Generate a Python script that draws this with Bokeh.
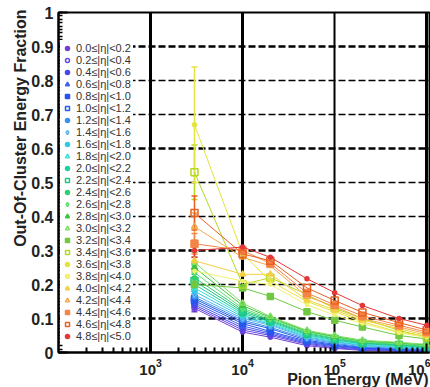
from bokeh.plotting import figure
from bokeh.models import (FixedTicker, NumeralTickFormatter, Legend, LegendItem, Title,
                          Grid, Whisker, ColumnDataSource, TeeHead, LogTickFormatter)
from bokeh.embed import file_html
from bokeh.resources import INLINE

# ---------------- data ----------------
energies = [3000, 10000, 20000, 50000, 100000, 200000, 500000, 1000000]

eta_labels = [
    "0.0≤|η|<0.2", "0.2≤|η|<0.4", "0.4≤|η|<0.6", "0.6≤|η|<0.8", "0.8≤|η|<1.0",
    "1.0≤|η|<1.2", "1.2≤|η|<1.4", "1.4≤|η|<1.6", "1.6≤|η|<1.8", "1.8≤|η|<2.0",
    "2.0≤|η|<2.2", "2.2≤|η|<2.4", "2.4≤|η|<2.6", "2.6≤|η|<2.8", "2.8≤|η|<3.0",
    "3.0≤|η|<3.2", "3.2≤|η|<3.4", "3.4≤|η|<3.6", "3.6≤|η|<3.8", "3.8≤|η|<4.0",
    "4.0≤|η|<4.2", "4.2≤|η|<4.4", "4.4≤|η|<4.6", "4.6≤|η|<4.8", "4.8≤|η|<5.0",
]

frac_eta00 = [0.130, 0.060, 0.045, 0.020, 0.012, 0.006, 0.004, 0.003]
frac_eta02 = [0.135, 0.066, 0.050, 0.024, 0.014, 0.008, 0.005, 0.004]
frac_eta04 = [0.140, 0.072, 0.054, 0.027, 0.017, 0.010, 0.007, 0.005]
frac_eta06 = [0.146, 0.078, 0.058, 0.030, 0.019, 0.012, 0.008, 0.006]
frac_eta08 = [0.152, 0.085, 0.062, 0.033, 0.021, 0.013, 0.009, 0.007]
frac_eta10 = [0.158, 0.090, 0.070, 0.036, 0.024, 0.015, 0.011, 0.008]
frac_eta12 = [0.163, 0.095, 0.074, 0.040, 0.027, 0.017, 0.012, 0.009]
frac_eta14 = [0.170, 0.100, 0.080, 0.043, 0.030, 0.020, 0.014, 0.011]
frac_eta16 = [0.180, 0.105, 0.083, 0.046, 0.032, 0.022, 0.016, 0.012]
frac_eta18 = [0.190, 0.110, 0.086, 0.049, 0.035, 0.024, 0.018, 0.013]
frac_eta20 = [0.200, 0.115, 0.090, 0.052, 0.037, 0.026, 0.020, 0.015]
frac_eta22 = [0.210, 0.120, 0.093, 0.055, 0.040, 0.028, 0.022, 0.016]
frac_eta24 = [0.220, 0.125, 0.096, 0.058, 0.042, 0.030, 0.024, 0.018]
frac_eta26 = [0.235, 0.130, 0.100, 0.061, 0.045, 0.032, 0.026, 0.020]
frac_eta28 = [0.250, 0.138, 0.103, 0.063, 0.047, 0.034, 0.028, 0.022]
frac_eta30 = [0.265, 0.145, 0.106, 0.065, 0.050, 0.036, 0.030, 0.024]
frac_eta32 = [0.200, 0.190, 0.165, 0.120, 0.095, 0.075, 0.050, 0.040]
frac_eta34 = [0.530, 0.200, 0.220, 0.170, 0.130, 0.100, 0.065, 0.045]
frac_eta36 = [0.670, 0.290, 0.210, 0.150, 0.120, 0.090, 0.060, 0.048]
frac_eta38 = [0.240, 0.210, 0.200, 0.140, 0.110, 0.085, 0.058, 0.044]
frac_eta40 = [0.270, 0.230, 0.230, 0.155, 0.125, 0.095, 0.070, 0.050]
frac_eta42 = [0.370, 0.280, 0.255, 0.165, 0.135, 0.100, 0.075, 0.055]
frac_eta44 = [0.320, 0.300, 0.262, 0.175, 0.140, 0.108, 0.080, 0.060]
frac_eta46 = [0.410, 0.290, 0.270, 0.190, 0.153, 0.118, 0.088, 0.066]
frac_eta48 = [0.300, 0.310, 0.280, 0.217, 0.176, 0.138, 0.100, 0.080]

fractions = [frac_eta00, frac_eta02, frac_eta04, frac_eta06, frac_eta08, frac_eta10,
             frac_eta12, frac_eta14, frac_eta16, frac_eta18, frac_eta20, frac_eta22,
             frac_eta24, frac_eta26, frac_eta28, frac_eta30, frac_eta32, frac_eta34,
             frac_eta36, frac_eta38, frac_eta40, frac_eta42, frac_eta44, frac_eta46,
             frac_eta48]

# statistical error at the 3 GeV point (only visible error bars)
err_3gev = [0.01, 0.01, 0.01, 0.01, 0.01, 0.01, 0.01, 0.01, 0.02, 0.02, 0.02, 0.02,
            0.02, 0.02, 0.03, 0.03, 0.02, 0.08, 0.17, 0.02, 0.03, 0.04, 0.03, 0.05, 0.02]

y_ticks = [0.0, 0.1, 0.2, 0.3, 0.4, 0.5, 0.6, 0.7, 0.8, 0.9, 1.0]
x_ticks = [1e3, 1e4, 1e5, 1e6]

# ---------------- styles ----------------
colors = ["#7040d0", "#6048e0", "#4a44e8", "#4060f0", "#2c50f0", "#2060e8", "#3a90f0",
          "#60b4f0", "#30c8e4", "#40e0d4", "#20d0a0", "#20c484", "#30d070", "#60e070",
          "#40c440", "#80e060", "#70c840", "#b4d820", "#e4e440", "#f4f070", "#f4d040",
          "#f4a848", "#f48448", "#e86020", "#e43838"]
markers = [("circle", True, 4), ("circle", False, 5), ("circle", True, 4), ("triangle", True, 6),
           ("square", True, 6), ("square", False, 6), ("circle", True, 4), ("diamond", False, 6),
           ("circle", True, 4), ("triangle", False, 6), ("circle", True, 6), ("square", False, 7),
           ("circle", True, 4), ("diamond", False, 6), ("triangle", True, 6), ("triangle", False, 6),
           ("square", True, 6), ("square", False, 7), ("circle", True, 4), ("circle", True, 3),
           ("triangle", True, 6), ("triangle", False, 6), ("square", True, 7), ("square", False, 7),
           ("circle", True, 4)]

FONT = "Liberation Sans"

p = figure(width=430, height=387, x_axis_type="log", x_range=(100, 10 ** 6.03),
           y_range=(0, 1), output_backend="svg", toolbar_location=None,
           min_border_left=58, min_border_right=1, min_border_top=12, min_border_bottom=35)
p.background_fill_color = "white"
p.border_fill_color = "white"
p.outline_line_color = "black"
p.outline_line_width = 2

p.xgrid.visible = False
p.ygrid.visible = False

# grid lines
p.add_layout(Grid(dimension=0, ticker=FixedTicker(ticks=[1e3, 1e4, 1e6]),
                  grid_line_color="black", grid_line_width=3))
p.add_layout(Grid(dimension=0, ticker=FixedTicker(ticks=[1e5]),
                  grid_line_color="black", grid_line_width=2))
p.add_layout(Grid(dimension=1, ticker=FixedTicker(ticks=[0.1, 0.3, 0.6, 0.9]),
                  grid_line_color="black", grid_line_width=2.5, grid_line_dash="7 3"))
p.add_layout(Grid(dimension=1, ticker=FixedTicker(ticks=[0.2, 0.4, 0.5, 0.7, 0.8]),
                  grid_line_color="black", grid_line_width=1.5, grid_line_dash="7 3"))

# axes
xa = p.xaxis[0]
xa.ticker = FixedTicker(ticks=x_ticks,
                        minor_ticks=[m * 10 ** d for d in range(2, 6) for m in range(2, 10)])
xa.formatter = LogTickFormatter()
xa.major_tick_in = 9
xa.major_tick_out = 0
xa.minor_tick_in = 5
xa.minor_tick_out = 0
xa.major_tick_line_width = 2
xa.minor_tick_line_width = 2
xa.axis_line_width = 2
xa.major_label_text_font = FONT
xa.major_label_text_font_style = "bold"
xa.major_label_text_font_size = "15px"
xa.major_label_text_color = "#222222"
xa.major_label_standoff = 6

ya = p.yaxis[0]
ya.ticker = FixedTicker(ticks=y_ticks,
                        minor_ticks=[i / 100 for i in range(0, 101)])
ya.formatter = NumeralTickFormatter(format="0.[0]")
ya.major_tick_in = 9
ya.major_tick_out = 0
ya.minor_tick_in = 4
ya.minor_tick_out = 0
ya.major_tick_line_width = 2
ya.minor_tick_line_width = 1.5
ya.axis_line_width = 2
ya.major_label_text_font = FONT
ya.major_label_text_font_style = "bold"
ya.major_label_text_font_size = "16px"
ya.major_label_text_color = "#222222"
ya.major_label_standoff = 5

# data
items = []
for i in range(len(fractions)):
    src = ColumnDataSource(dict(x=energies, y=fractions[i]))
    col = colors[i]
    mk, filled, sz = markers[i]
    p.line("x", "y", source=src, line_color=col, line_width=1)
    err_src = ColumnDataSource(dict(x=[energies[0]],
                                    lo=[fractions[i][0] - err_3gev[i]],
                                    hi=[fractions[i][0] + err_3gev[i]]))
    p.add_layout(Whisker(source=err_src, base="x", lower="lo", upper="hi",
                         line_color=col, line_width=1.5,
                         upper_head=TeeHead(size=6, line_color=col, line_width=1.5),
                         lower_head=TeeHead(size=6, line_color=col, line_width=1.5)))
    sc = p.scatter("x", "y", source=src, marker=mk, size=sz, line_color=col,
                   line_width=1.5, fill_color=col if filled else None)
    items.append(LegendItem(label=eta_labels[i], renderers=[sc]))

legend = Legend(items=items, location=(2, 8), orientation="vertical")
legend.label_text_font = FONT
legend.label_text_font_size = "11px"
legend.label_text_color = "#333333"
legend.glyph_width = 10
legend.glyph_height = 12
legend.label_height = 12
legend.label_standoff = 4
legend.spacing = 0
legend.padding = 2
legend.margin = 0
legend.border_line_alpha = 0
legend.background_fill_color = "white"
legend.background_fill_alpha = 1
p.add_layout(legend)

# axis titles (ROOT style: aligned to the far end of each axis)
p.add_layout(Title(text="Out-Of-Cluster Energy Fraction", align="right",
                   text_font=FONT, text_font_style="bold", text_font_size="16px",
                   text_color="#222222", standoff=0, offset=-3), "left")
p.add_layout(Title(text="Pion Energy (MeV)", align="right",
                   text_font=FONT, text_font_style="bold", text_font_size="16px",
                   text_color="#222222", standoff=-18, offset=1), "below")

open("out.html", "w").write(file_html(p, INLINE))
